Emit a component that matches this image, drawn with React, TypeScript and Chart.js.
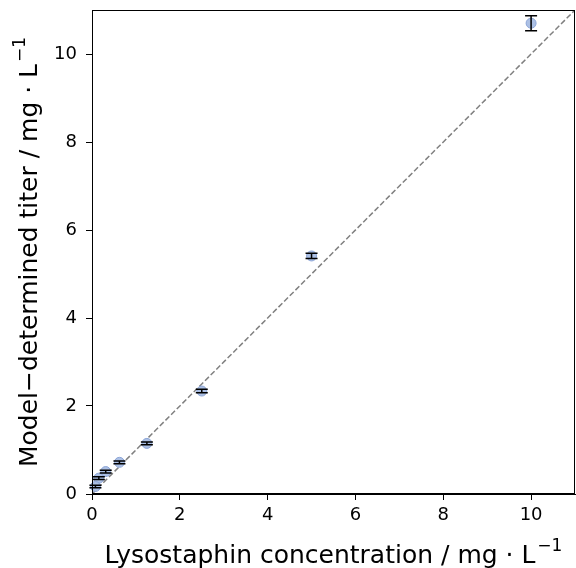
import React, { useEffect, useRef } from "react";
import { Chart, registerables } from "chart.js";

Chart.register(...registerables);

const concentrations = [10, 5, 2.5, 1.25, 0.625, 0.3125, 0.156, 0.078];
const modelTiters = [10.7, 5.41, 2.34, 1.15, 0.72, 0.51, 0.36, 0.17];
const titerErrors = [0.17, 0.06, 0.04, 0.03, 0.03, 0.03, 0.03, 0.03];
const xTicks = [0, 2, 4, 6, 8, 10];
const yTicks = [0, 2, 4, 6, 8, 10];
const axisMax = 11;
const xTitle = "Lysostaphin concentration / mg \u00B7 L";
const yTitle = "Model\u2212determined titer / mg \u00B7 L";
const unitExponent = "\u22121";

const FONT = "'DejaVu Sans', sans-serif";
const TITLE_SIZE = 25;
const SUP_SIZE = 17;

function drawTitle(ctx: any, main: string, sup: string, cx: number, baseline: number) {
  ctx.font = `${TITLE_SIZE}px ${FONT}`;
  const w1 = ctx.measureText(main).width;
  ctx.font = `${SUP_SIZE}px ${FONT}`;
  const w2 = ctx.measureText(sup).width;
  const total = w1 + 2 + w2;
  const start = cx - total / 2;
  ctx.textAlign = "left";
  ctx.textBaseline = "alphabetic";
  ctx.fillStyle = "#000";
  ctx.font = `${TITLE_SIZE}px ${FONT}`;
  ctx.fillText(main, start, baseline);
  ctx.font = `${SUP_SIZE}px ${FONT}`;
  ctx.fillText(sup, start + w1 + 2, baseline - 12);
}

const errorBarPlugin = {
  id: "errorBars",
  beforeDatasetsDraw(chart: any) {
    const { ctx, scales, chartArea } = chart;
    const xs = scales.x;
    const ys = scales.y;
    ctx.save();
    ctx.beginPath();
    ctx.rect(chartArea.left, chartArea.top, chartArea.right - chartArea.left, chartArea.bottom - chartArea.top);
    ctx.clip();
    ctx.strokeStyle = "#808080";
    ctx.lineWidth = 1.5;
    ctx.setLineDash([5.5, 2.5]);
    ctx.beginPath();
    ctx.moveTo(xs.getPixelForValue(0), ys.getPixelForValue(0));
    ctx.lineTo(xs.getPixelForValue(axisMax), ys.getPixelForValue(axisMax));
    ctx.stroke();
    ctx.restore();
  },
  afterDatasetsDraw(chart: any) {
    const { ctx, scales, chartArea } = chart;
    const xs = scales.x;
    const ys = scales.y;
    ctx.save();
    ctx.strokeStyle = "#000";
    ctx.lineWidth = 1.5;
    ctx.setLineDash([]);
    concentrations.forEach((c, i) => {
      const px = xs.getPixelForValue(c);
      const top = ys.getPixelForValue(modelTiters[i] + titerErrors[i]);
      const bot = ys.getPixelForValue(modelTiters[i] - titerErrors[i]);
      ctx.beginPath();
      ctx.moveTo(px, top);
      ctx.lineTo(px, bot);
      ctx.moveTo(px - 6, top);
      ctx.lineTo(px + 6, top);
      ctx.moveTo(px - 6, bot);
      ctx.lineTo(px + 6, bot);
      ctx.stroke();
    });
    ctx.lineWidth = 1;
    ctx.strokeStyle = "#000";
    ctx.strokeRect(chartArea.left + 0.5, chartArea.top + 0.5, chartArea.right - chartArea.left - 1, chartArea.bottom - chartArea.top - 1);
    ctx.restore();
  },
  afterDraw(chart: any) {
    const { ctx, chartArea } = chart;
    ctx.save();
    drawTitle(ctx, xTitle, unitExponent, (chartArea.left + chartArea.right) / 2, 563);
    ctx.translate(37, (chartArea.top + chartArea.bottom) / 2);
    ctx.rotate(-Math.PI / 2);
    drawTitle(ctx, yTitle, unitExponent, 0, 0);
    ctx.restore();
  },
};

export default function App() {
  const ref = useRef<HTMLCanvasElement | null>(null);
  useEffect(() => {
    if (!ref.current) return;
    const chart = new Chart(ref.current, {
      type: "scatter",
      data: {
        datasets: [
          {
            data: concentrations.map((c, i) => ({ x: c, y: modelTiters[i] })),
            backgroundColor: "rgba(172,192,228,1)",
            borderColor: "rgba(140,165,215,1)",
            borderWidth: 1,
            pointRadius: 5,
          },
        ],
      },
      options: {
        animation: false,
        responsive: false,
        clip: false,
        layout: { autoPadding: false, padding: { top: 10, right: 1, left: 0, bottom: 0 } },
        plugins: { legend: { display: false }, tooltip: { enabled: false } },
        scales: {
          x: {
            type: "linear",
            min: 0,
            max: axisMax,
            afterBuildTicks: (s: any) => {
              s.ticks = xTicks.map((v) => ({ value: v }));
            },
            afterFit: (s: any) => {
              s.height = 74;
              s.paddingLeft = 0;
              s.paddingRight = 0;
            },
            grid: { drawOnChartArea: false, drawTicks: true, tickLength: 6, color: "#000", tickWidth: 1 },
            border: { display: true, color: "#000", width: 1 },
            ticks: { color: "#000", font: { family: FONT, size: 18 }, padding: 5, maxRotation: 0 },
          },
          y: {
            type: "linear",
            min: 0,
            max: axisMax,
            afterBuildTicks: (s: any) => {
              s.ticks = yTicks.map((v) => ({ value: v }));
            },
            afterFit: (s: any) => {
              s.width = 92;
              s.paddingTop = 0;
              s.paddingBottom = 0;
            },
            grid: { drawOnChartArea: false, drawTicks: true, tickLength: 6, color: "#000", tickWidth: 1 },
            border: { display: true, color: "#000", width: 1 },
            ticks: { color: "#000", font: { family: FONT, size: 18 }, padding: 9 },
          },
        },
      },
      plugins: [errorBarPlugin],
    } as any);
    return () => chart.destroy();
  }, []);
  return (
    <div style={{ position: "absolute", left: 0, top: 0, width: 576, height: 568, background: "#fff" }}>
      <canvas ref={ref} width={576} height={568} style={{ width: 576, height: 568 }} />
    </div>
  );
}
